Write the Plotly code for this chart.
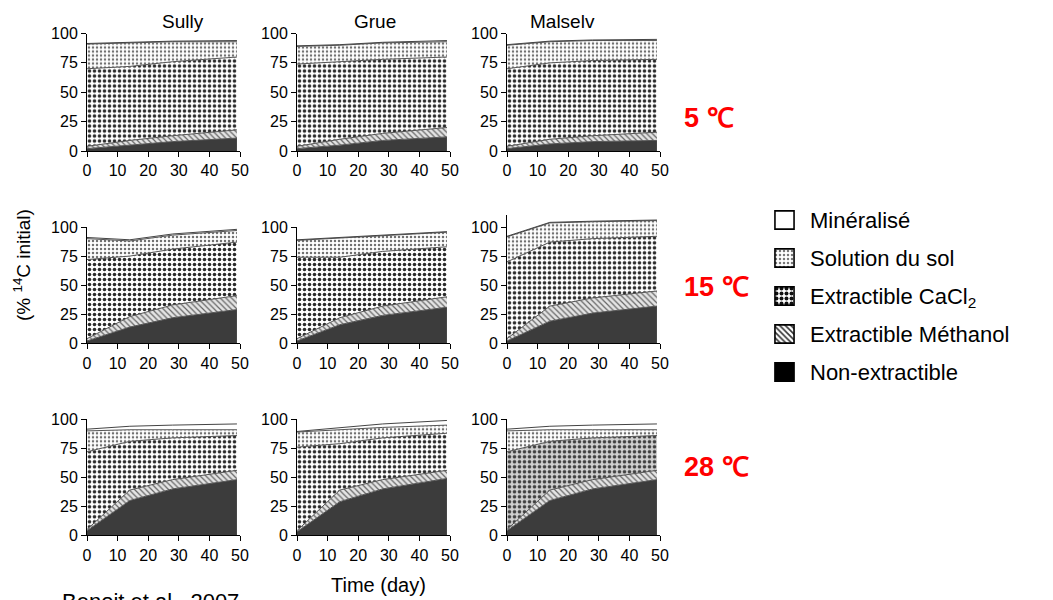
import plotly.graph_objects as go

# ---------------- data ----------------
DAYS = [0, 14, 28, 49]
SOILS = ["Sully", "Grue", "Malselv"]
TEMPS = ["5 ℃", "15 ℃", "28 ℃"]
FRACTIONS = ["Non-extractible", "Extractible Méthanol",
             "Extractible CaCl<sub>2</sub>", "Solution du sol", "Minéralisé"]

# cumulative upper boundary (% 14C initial) of each fraction;
# panels row-major: 5 ℃ (Sully, Grue, Malselv), 15 ℃ (...), 28 ℃ (...)
NON_EXTRACTIBLE = [
    [2, 5, 8, 11], [2, 5, 9, 12], [2, 6, 8, 9],
    [2, 14, 22, 29], [2, 16, 24, 31], [2, 19, 26, 32],
    [4, 30, 40, 48], [3, 29, 40, 49], [4, 30, 40, 48],
]
METHANOL_TOP = [
    [4, 9, 13, 18], [4, 10, 15, 20], [4, 10, 13, 16],
    [4, 23, 33, 41], [4, 22, 32, 40], [4, 32, 39, 45],
    [5, 39, 48, 56], [4, 39, 48, 56], [5, 39, 48, 56],
]
CACL2_TOP = [
    [70, 72, 76, 80], [74, 76, 78, 80], [70, 75, 77, 78],
    [72, 75, 81, 87], [74, 74, 79, 83], [70, 87, 90, 92],
    [72, 81, 84, 86], [76, 79, 84, 88], [72, 81, 84, 86],
]
SOLUTION_TOP = [
    [91, 92, 93, 93], [89, 90, 92, 93], [90, 93, 94, 94],
    [90, 88, 93, 97], [88.5, 90.5, 93, 95.5], [91.5, 103.5, 104.5, 105.5],
    [90, 91, 91, 91], [89, 91, 93, 95], [90, 91, 91, 91],
]
MINERALISE_TOP = [
    [91.5, 92.5, 93.5, 94], [89.5, 90.5, 92.5, 94], [90.5, 93.5, 94.5, 95],
    [91, 89, 94, 98], [89, 91, 93.5, 96], [92, 104, 105, 106],
    [91.5, 94, 95, 96], [89.5, 93, 96, 99], [91.5, 94, 95, 96],
]
Y_TICKS = [0, 25, 50, 75, 100]
X_TICKS = [0, 10, 20, 30, 40, 50]

# ---------------- geometry / style ----------------
W, H = 1053, 600
FONT = "Liberation Sans, Arial, Helvetica, sans-serif"
COL_PX = [(87, 240), (297, 450), (507, 660)]           # x pixel of day 0 / day 50
ROW_PX = [(33.5, 151), (227, 343.3), (419.3, 535.3)]   # y pixel of value 100 / value 0

def px_x(v):
    return v / W

def px_y(v):
    return 1 - v / H

STYLES = [
    dict(fillcolor="#3c3c3c", fillpattern=None),
    dict(fillcolor="#dcdcdc", fillpattern=dict(shape="\\", fgcolor="#666666", bgcolor="#e4e4e4",
                                               size=4, solidity=0.3)),
    dict(fillcolor="#ffffff", fillpattern=dict(shape=".", fgcolor="#2a2a2a", bgcolor="#ffffff",
                                               size=5, solidity=0.4)),
    dict(fillcolor="#ffffff", fillpattern=dict(shape=".", fgcolor="#707070", bgcolor="#ffffff",
                                               size=4, solidity=0.3)),
    dict(fillcolor="#ffffff", fillpattern=None),
]
LAYERS = [NON_EXTRACTIBLE, METHANOL_TOP, CACL2_TOP, SOLUTION_TOP, MINERALISE_TOP]

fig = go.Figure()
layout = dict(
    template="none",
    width=W, height=H, margin=dict(l=0, r=0, t=0, b=0, pad=0, autoexpand=False),
    paper_bgcolor="white", plot_bgcolor="white",
    font=dict(family=FONT, color="black", size=16),
    showlegend=False, bargap=0.52, barmode="overlay",
)

for p in range(9):
    r, c = divmod(p, 3)
    n = p + 1
    xa = "x" if n == 1 else f"x{n}"
    ya = "y" if n == 1 else f"y{n}"
    for k, layer in enumerate(LAYERS):
        st = dict(STYLES[k])
        fp = st["fillpattern"]
        if p == 8 and k == 2:  # lighter CaCl2 texture in Malselv 28 ℃
            fp = dict(shape=".", fgcolor="#404040", bgcolor="#d0d0d0", size=5, solidity=0.4)
        tr = dict(
            x=DAYS, y=layer[p], mode="lines",
            fill="tozeroy" if k == 0 else "tonexty",
            fillcolor=st["fillcolor"],
            line=dict(color="#555555" if k < 4 else "#444444", width=1),
            xaxis=xa, yaxis=ya, showlegend=False, hoverinfo="skip",
        )
        if fp is not None:
            tr["fillpattern"] = fp
        fig.add_trace(go.Scatter(**tr))

    ytop = 110 if p == 5 else 100
    x0, x1 = COL_PX[c]
    yt, yb = ROW_PX[r]
    if ytop != 100:
        yt = yb - (yb - yt) * ytop / 100
    axis_common = dict(showline=True, linecolor="black", linewidth=1, ticks="outside",
                       ticklen=5, tickcolor="black", tickwidth=1, showgrid=False,
                       zeroline=False, tickfont=dict(size=16, family=FONT, color="black"),
                       fixedrange=True, automargin=False)
    layout["xaxis" if n == 1 else f"xaxis{n}"] = dict(
        axis_common, domain=[px_x(x0), px_x(x1)], range=[0, 50],
        tickvals=X_TICKS, anchor=ya)
    layout["yaxis" if n == 1 else f"yaxis{n}"] = dict(
        axis_common, domain=[px_y(yb), px_y(yt)], range=[0, ytop],
        tickvals=Y_TICKS, anchor=xa)

# legend drawn as a small horizontal bar chart (patterned swatches), one trace per fraction
LEG_STYLE = [
    dict(color="#000000", pattern=None),
    dict(color="#ffffff", pattern=dict(shape="\\", fgcolor="#333333", bgcolor="#ffffff",
                                       size=4, solidity=0.4)),
    dict(color="#ffffff", pattern=dict(shape=".", fgcolor="#111111", bgcolor="#ffffff",
                                       size=5, solidity=0.5)),
    dict(color="#ffffff", pattern=dict(shape=".", fgcolor="#777777", bgcolor="#ffffff",
                                       size=4, solidity=0.3)),
    dict(color="#ffffff", pattern=None),
]
for name, ls in zip(FRACTIONS, LEG_STYLE):
    marker = dict(color=ls["color"], line=dict(color="black", width=1.6))
    if ls["pattern"] is not None:
        marker["pattern"] = ls["pattern"]
    fig.add_trace(go.Bar(x=[1], y=[name], orientation="h", xaxis="x10", yaxis="y10",
                         showlegend=False, hoverinfo="skip", marker=marker))
layout["xaxis10"] = dict(domain=[px_x(774), px_x(795)], range=[-0.05, 1.05], visible=False,
                         fixedrange=True, anchor="y10", automargin=False)
layout["yaxis10"] = dict(domain=[px_y(391), px_y(201)], type="category",
                         categoryorder="array", categoryarray=FRACTIONS,
                         side="right", showline=False, ticks="", showgrid=False,
                         zeroline=False,
                         tickfont=dict(size=22, family=FONT, color="black"),
                         ticklabelstandoff=14, fixedrange=True, anchor="x10",
                         automargin=False)

annotations = []
title_x = [183, 375, 562]
for name, xc in zip(SOILS, title_x):
    annotations.append(dict(text=name, x=px_x(xc), y=px_y(21), xref="paper", yref="paper",
                            xanchor="center", yanchor="middle", showarrow=False,
                            font=dict(size=19, family=FONT)))
temp_y = [118, 287, 467]
for t, yc in zip(TEMPS, temp_y):
    annotations.append(dict(text=f"<b>{t}</b>", x=px_x(682), y=px_y(yc), xref="paper",
                            yref="paper", xanchor="left", yanchor="middle", showarrow=False,
                            font=dict(size=27, family=FONT, color="#ff0000")))
annotations.append(dict(text="(% <sup>14</sup>C initial)", textangle=-90, x=px_x(22),
                        y=px_y(265), xref="paper", yref="paper", xanchor="center",
                        yanchor="middle", showarrow=False, font=dict(size=19, family=FONT)))
annotations.append(dict(text="Time (day)", x=px_x(378), y=px_y(585), xref="paper",
                        yref="paper", xanchor="center", yanchor="middle", showarrow=False,
                        font=dict(size=20, family=FONT)))
annotations.append(dict(text="Benoit et al., 2007", x=px_x(60), y=px_y(601), xref="paper",
                        yref="paper", xanchor="left", yanchor="middle", showarrow=False,
                        font=dict(size=22, family=FONT)))
layout["annotations"] = annotations

fig.update_layout(**layout)
fig.write_html("out.html")
